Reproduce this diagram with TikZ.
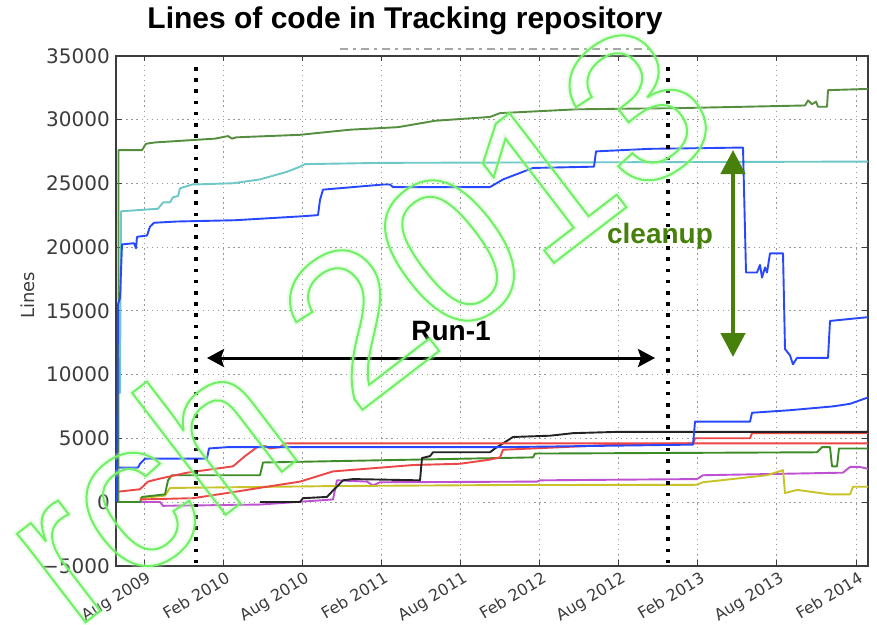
\documentclass[tikz,border=0pt]{standalone}
\usepackage{fontspec}
\setmainfont{Liberation Sans}
\newfontfamily\plotfont{DejaVu Sans}
\usetikzlibrary{arrows.meta,positioning}

\definecolor{topgreen}{RGB}{84,142,62}
\definecolor{lowgreen}{RGB}{62,140,40}
\definecolor{tealline}{RGB}{110,200,200}
\definecolor{blueline}{RGB}{40,72,255}
\definecolor{redline}{RGB}{236,70,70}
\definecolor{darkline}{RGB}{35,35,35}
\definecolor{yellowline}{RGB}{200,195,40}
\definecolor{purpleline}{RGB}{190,80,210}
\definecolor{cleangreen}{RGB}{72,128,12}
\definecolor{markgreen}{RGB}{112,240,100}
\definecolor{axisgray}{RGB}{60,60,60}

\tikzset{
  gridline/.style={gray!80, line width=0.9pt, dash pattern=on 1.3pt off 3.8pt},
  frame/.style={axisgray, line width=1.8pt},
  tickmark/.style={axisgray, line width=0.8pt},
  series/.style={line width=1.9pt, line join=round},
  phase/.style={black, line width=3.6pt, dash pattern=on 3.6pt off 7.6pt},
  ticklabel/.style={text=axisgray, font=\plotfont\fontsize{20}{20}\selectfont},
  datelabel/.style={text=axisgray, font=\plotfont\fontsize{16}{16}\selectfont, rotate=31, anchor=north east, inner sep=1pt},
  callout/.style={font=\bfseries\fontsize{28}{28}\selectfont}
}

% stroke the glyph outlines only (pdf text render mode 1)
\newcommand{\hollow}[2]{\special{pdf:literal direct 1 Tr #1 w}#2\special{pdf:literal direct 0 Tr}}

\begin{document}
\begin{tikzpicture}[x=1pt, y=-1pt]
\useasboundingbox (0,0) rectangle (877,624);
\fill[white] (0,0) rectangle (877,624);

\node[font=\bfseries\fontsize{30}{30}\selectfont] (title) at (405,21) {Lines of code in Tracking repository};
\draw[gray!70, line width=1.2pt, dash pattern=on 8pt off 5pt on 3pt off 5pt] (340,49) -- (650,49);

% axes in (pixel, kLines)
\begin{scope}[shift={(0,502)}, x=1pt, y=12.75pt]
  \foreach \i in {0,...,9} {
    \draw[gridline] ({144+79.11*\i},-5) -- ({144+79.11*\i},35);
    \draw[tickmark] ({144+79.11*\i},-5) -- ++(0,0.45);
    \draw[tickmark] ({144+79.11*\i},35) -- ++(0,-0.45);
  }
  \foreach \k in {0,5,...,30} {
    \draw[gridline] (116,\k) -- (868,\k);
    \draw[tickmark] (116,\k) -- ++(6,0);
    \draw[tickmark] (868,\k) -- ++(-6,0);
  }
  \draw[frame] (116,-5) rectangle (868,35);

  \foreach \k/\lab in {-5/{−5000},0/0,5/5000,10/10000,15/15000,20/20000,25/25000,30/30000,35/35000}
    \node[ticklabel, anchor=east, inner sep=0pt] (ylab\k) at (110,\k) {\lab};
  \foreach \lab [count=\i from 0] in {Aug 2009,Feb 2010,Aug 2010,Feb 2011,Aug 2011,Feb 2012,Aug 2012,Feb 2013,Aug 2013,Feb 2014}
    \node[datelabel] (xlab\i) at ({146+79.11*\i},-5.3) {\lab};
  \node[text=axisgray, font=\plotfont\fontsize{18}{18}\selectfont, rotate=90] (ylabel) at (28,16.2) {Lines};

  % small packages
  \draw[series, purpleline] (117,0) -- (160,0) -- (163,-0.3) -- (260,-0.2) -- (333,0.2) -- (337,1.7) -- (367,1.6) -- (373,1.3) -- (380,1.55) -- (537,1.6) -- (540,1.7) -- (697,1.8) -- (703,2.1) -- (843,2.3) -- (850,2.75) -- (860,2.75) -- (868,2.6);
  \draw[series, yellowline] (140,0.3) -- (165,0.5) -- (170,1.1) -- (333,1.25) -- (500,1.33) -- (697,1.35) -- (703,1.55) -- (767,2.1) -- (783,2.5) -- (785,0.7) -- (797,0.95) -- (830,0.6) -- (850,0.6) -- (853,1.2) -- (868,1.2);
  \draw[series, lowgreen] (117,0) -- (140,0) -- (142,0.4) -- (165,0.6) -- (168,1.7) -- (172,2.1) -- (260,2.1) -- (263,3.1) -- (500,3.45) -- (533,3.5) -- (535,3.8) -- (817,3.9) -- (822,4.3) -- (830,4.3) -- (832,2.8) -- (837,2.8) -- (839,4.2) -- (868,4.2);
  \draw[series, redline] (140,0.2) -- (193,0.3) -- (227,0.7) -- (267,1.2) -- (300,1.6) -- (333,2.4) -- (413,2.9) -- (460,3.0) -- (488,3.3) -- (500,3.5) -- (503,4.1) -- (533,4.2) -- (617,4.5) -- (693,4.6) -- (695,5.0) -- (750,5.0) -- (752,5.4) -- (868,5.4);
  \draw[series, darkline] (260,0) -- (300,0) -- (303,0.3) -- (327,0.4) -- (333,0.9) -- (343,1.7) -- (353,1.8) -- (420,1.7) -- (422,3.45) -- (430,3.6) -- (433,3.9) -- (490,3.9) -- (495,4.2) -- (503,4.6) -- (513,5.1) -- (550,5.2) -- (573,5.4) -- (617,5.5) -- (868,5.5);
  \draw[series, redline] (117,0.8) -- (140,1.0) -- (148,1.6) -- (158,1.8) -- (187,2.3) -- (233,2.8) -- (245,3.6) -- (257,4.3) -- (265,4.4) -- (270,4.2) -- (280,4.3) -- (285,4.6) -- (868,4.6);
  \draw[series, blueline] (117,2.7) -- (138,2.7) -- (140,3.0) -- (145,3.4) -- (207,3.4) -- (209,4.2) -- (227,4.3) -- (500,4.3) -- (693,4.5) -- (695,6.3) -- (750,6.3) -- (752,7.0) -- (790,7.2) -- (833,7.5) -- (850,7.7) -- (868,8.2);

  % big packages
  \draw[series, tealline] (120,8.5) -- (121,22.8) -- (158,23.0) -- (163,23.5) -- (170,23.5) -- (173,23.9) -- (178,24.0) -- (180,24.6) -- (192,24.9) -- (233,25.0) -- (260,25.3) -- (287,25.9) -- (300,26.3) -- (305,26.5) -- (383,26.6) -- (868,26.7);
  \draw[series, topgreen] (118.5,0) -- (118.5,27.6) -- (142,27.6) -- (146,28.1) -- (155,28.2) -- (215,28.5) -- (228,28.7) -- (232,28.5) -- (236,28.6) -- (300,28.8) -- (350,29.2) -- (398,29.4) -- (435,29.9) -- (490,30.2) -- (500,30.5) -- (577,30.8) -- (683,30.9) -- (805,31.1) -- (808,31.5) -- (812,31.2) -- (816,31.4) -- (818,31.0) -- (827,31.0) -- (828,32.3) -- (868,32.4);
  \draw[series, blueline] (117,0) -- (118,15.5) -- (120,16.0) -- (122,20.2) -- (134,20.3) -- (136,19.9) -- (137,20.8) -- (147,20.9) -- (150,21.6) -- (154,21.9) -- (177,22.0) -- (235,22.1) -- (300,22.4) -- (318,22.5) -- (320,23.7) -- (323,24.5) -- (383,24.9) -- (390,24.9) -- (393,24.7) -- (490,24.7) -- (503,25.3) -- (533,26.2) -- (594,26.3) -- (596,27.5) -- (650,27.7) -- (743,27.8) -- (746,18.0) -- (757,18.0) -- (760,18.6) -- (762,17.6) -- (765,18.4) -- (767,18.0) -- (770,19.5) -- (783,19.5) -- (785,12.0) -- (790,11.5) -- (793,10.8) -- (797,11.3) -- (828,11.3) -- (830,14.2) -- (868,14.5);
\end{scope}

% Run-1 period
\draw[phase] (196,67) -- (196,566);
\draw[phase] (668,67) -- (668,566);
\coordinate (run start) at (207,358);
\coordinate (run end) at (655,358);
\draw[line width=3pt, {Stealth[length=17pt,width=18pt,inset=3pt]}-{Stealth[length=17pt,width=18pt,inset=3pt]}] (run start) -- (run end);
\node[callout] (run label) at (451,331) {Run-1};

% cleanup
\coordinate (clean top) at (733,150);
\coordinate (clean bottom) at (733,357);
\draw[cleangreen, line width=4.5pt, {Triangle[length=24pt,width=24pt]}-{Triangle[length=24pt,width=24pt]}] (clean bottom) -- (clean top);
\node[callout, text=cleangreen] (clean label) at (660,236) {cleanup};

% watermark
\begin{scope}[opacity=0.3]
  \node[text=markgreen!45, rotate=37.5, font=\fontsize{212}{212}\selectfont] (mark glow) at (355,320) {\hollow{6}{rch 2013}};
\end{scope}
\node[text=markgreen, rotate=37.5, font=\fontsize{212}{212}\selectfont] (mark) at (355,320) {\hollow{2}{rch 2013}};
\end{tikzpicture}
\end{document}
